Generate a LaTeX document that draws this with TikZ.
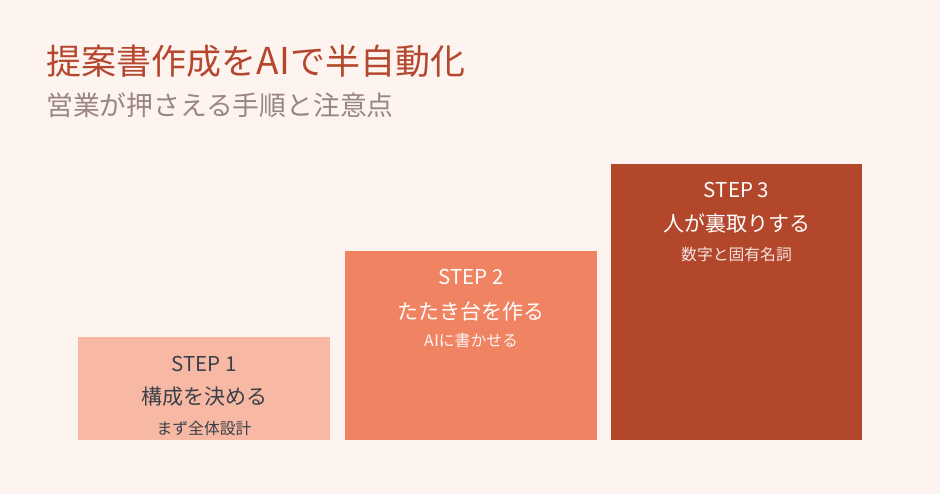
\documentclass[tikz,border=0pt]{standalone}
\usepackage{fontspec}
\setmainfont{Noto Sans CJK JP}
\definecolor{bgc}{HTML}{FDF3EF}
\definecolor{titlec}{HTML}{B5472E}
\definecolor{subc}{HTML}{9A8580}
\definecolor{s1c}{HTML}{F7B9A3}
\definecolor{s2c}{HTML}{F08362}
\definecolor{s3c}{HTML}{B3472C}
\definecolor{darktext}{HTML}{3A3F4A}
\begin{document}
\begin{tikzpicture}[x=1pt,y=-1pt,
  steplabel/.style={inner sep=0pt, anchor=center, font=\fontsize{20.5}{24}\selectfont},
  mainlabel/.style={inner sep=0pt, anchor=center, font=\fontsize{21}{24}\selectfont},
  sublabel/.style={inner sep=0pt, anchor=center, font=\fontsize{15.8}{18}\selectfont}]
\fill[bgc] (0,0) rectangle (940,494);
\useasboundingbox (0,0) rectangle (940,494);
\node[inner sep=0pt, anchor=west, text=titlec, font=\fontsize{35}{40}\selectfont] (title) at (46,61) {提案書作成を{\fontsize{37}{40}\selectfont A\kern1ptI}で半自動化};
\node[inner sep=0pt, anchor=west, text=subc, font=\fontsize{26.8}{30}\selectfont] (subtitle) at (46,105) {営業が押さえる手順と注意点};
% boxes
\fill[s1c] (78,337) rectangle (330,440);
\fill[s2c] (345,251) rectangle (597,440);
\fill[s3c] (611,164) rectangle (862,440);
% step 1
\node[steplabel, text=darktext] (s1) at (204,364) {STEP 1};
\node[mainlabel, text=darktext] (m1) at (204,397) {構成を決める};
\node[sublabel, text=darktext] (t1) at (204,428) {まず全体設計};
% step 2
\node[steplabel, text=white] (s2) at (471,277) {STEP 2};
\node[mainlabel, text=white] (m2) at (471,311) {たたき台を作る};
\node[sublabel, text=white!92!s2c] (t2) at (471,341) {A\kern0.6ptIに書かせる};
% step 3
\node[steplabel, text=white] (s3) at (736.5,190) {STEP 3};
\node[mainlabel, text=white] (m3) at (736.5,223) {人が裏取りする};
\node[sublabel, text=white!85!s3c] (t3) at (736.5,254) {数字と固有名詞};
\end{tikzpicture}
\end{document}
